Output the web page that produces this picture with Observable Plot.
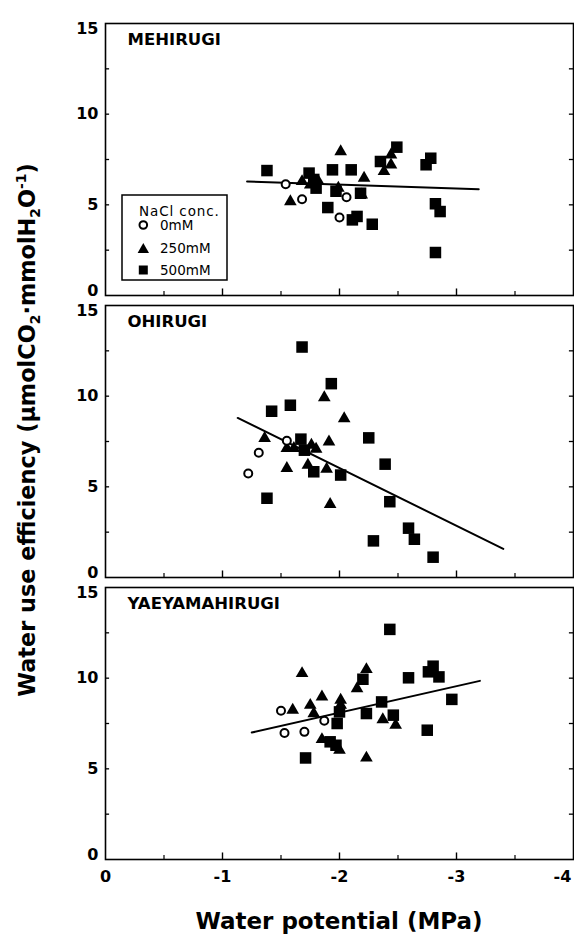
<!DOCTYPE html>
<html>
<head>
<meta charset="utf-8">
<script src="https://cdn.jsdelivr.net/npm/d3@7"></script>
<script src="https://cdn.jsdelivr.net/npm/@observablehq/plot@0.6"></script>
<style>
  body { margin: 0; background: #fff; }
  #wrap { position: relative; width: 574px; height: 938px; overflow: hidden; font-family: "DejaVu Sans", sans-serif; color: #000; }
  #ylabel { position: absolute; left: 27px; top: 430px; transform: translate(-50%, -50%) rotate(-90deg); white-space: nowrap; font-weight: bold; font-size: 22.4px; line-height: 1; }
  #ylabel sub, #ylabel sup { font-size: 0.62em; line-height: 0; }
  #xlabel { position: absolute; left: 105px; width: 468px; text-align: center; top: 910px; font-weight: bold; font-size: 23px; line-height: 1; white-space: nowrap; }
  #legend { position: absolute; left: 121px; top: 194px; }
  #legend text { font-family: "DejaVu Sans", sans-serif; font-size: 13.5px; }
</style>
</head>
<body>
<div id="wrap">
  <div id="chart"></div>
  <div id="ylabel">Water use efficiency (μmolCO<sub>2</sub>·mmolH<sub>2</sub>O<sup>-1</sup>)</div>
  <div id="xlabel">Water potential (MPa)</div>
  <svg id="legend" width="108" height="88">
    <rect x="1" y="1" width="105" height="85" fill="#fff" stroke="#000" stroke-width="1.5"></rect>
    <text x="18" y="21.7" style="letter-spacing:0.9px">NaCl conc.</text>
    <circle cx="22.3" cy="31" r="3.8" fill="none" stroke="#000" stroke-width="2"></circle>
    <text x="39" y="36">0mM</text>
    <path d="M22.3,49 L28,59 L16.6,59 Z" fill="#000"></path>
    <text x="39" y="59.3">250mM</text>
    <rect x="17.8" y="71.5" width="9" height="9" fill="#000"></rect>
    <text x="39" y="81">500mM</text>
  </svg>
</div>
<script>
// ---- categories & ticks ----
const species = ["MEHIRUGI", "OHIRUGI", "YAEYAMAHIRUGI"];
const treatments = ["0mM", "250mM", "500mM"];
const xTicks = [0, -1, -2, -3];
const xLastTick = [-4];
const xMajorInner = [-1, -2, -3];
const xMinorTicks = [-0.5, -1.5, -2.5, -3.5];
const yTicksMid = [5, 10];
const yTickTop = [15];
const yTickBottom = [0];
const yInnerTicks = [2.5, 5, 7.5, 10, 12.5];

// ---- data: [water potential (MPa), WUE] ----
const mehirugi_0mM = [[-1.54, 6.14], [-1.68, 5.31], [-2.06, 5.42], [-2.00, 4.30]];
const mehirugi_250mM = [[-1.58, 5.18], [-2.01, 7.94], [-1.68, 6.29], [-1.82, 6.29], [-1.99, 5.92],
  [-2.21, 6.47], [-2.19, 5.55], [-2.38, 6.84], [-2.44, 7.21], [-2.44, 7.76], [-1.75, 6.1]];
const mehirugi_500mM = [[-1.38, 6.89], [-1.74, 6.75], [-1.80, 5.92], [-1.94, 6.93], [-1.90, 4.85],
  [-2.10, 6.93], [-2.11, 4.17], [-2.15, 4.36], [-2.18, 5.64], [-2.28, 3.93], [-2.35, 7.39],
  [-2.49, 8.18], [-2.74, 7.21], [-2.78, 7.57], [-2.82, 5.06], [-2.86, 4.63], [-2.82, 2.37],
  [-1.78, 6.4], [-1.97, 5.75]];
const mehirugi_fit = [[-1.21, 6.29], [-3.19, 5.86]];

const ohirugi_0mM = [[-1.22, 5.74], [-1.31, 6.88], [-1.55, 7.54]];
const ohirugi_250mM = [[-1.36, 7.67], [-1.55, 7.12], [-1.61, 7.12], [-1.76, 7.30], [-1.80, 7.08],
  [-1.55, 6.02], [-1.73, 6.20], [-1.89, 5.98], [-1.91, 7.48], [-1.87, 9.92], [-2.04, 8.77], [-1.92, 4.04]];
const ohirugi_500mM = [[-1.68, 12.71], [-1.93, 10.69], [-1.42, 9.17], [-1.58, 9.50], [-1.67, 7.63],
  [-1.70, 7.02], [-1.78, 5.83], [-2.01, 5.65], [-2.25, 7.70], [-2.39, 6.25], [-2.43, 4.18],
  [-2.59, 2.72], [-2.64, 2.11], [-2.29, 2.02], [-2.80, 1.12], [-1.38, 4.37]];
const ohirugi_fit = [[-1.13, 8.80], [-3.40, 1.58]];

const yaeyamahirugi_0mM = [[-1.50, 8.20], [-1.53, 6.98], [-1.70, 7.04], [-1.87, 7.65]];
const yaeyamahirugi_250mM = [[-1.68, 10.26], [-2.23, 10.48], [-2.15, 9.43], [-1.85, 8.97], [-2.01, 8.79],
  [-2.01, 8.51], [-1.60, 8.24], [-1.75, 8.51], [-1.78, 8.05], [-2.37, 7.72], [-2.48, 7.41],
  [-1.85, 6.62], [-2.00, 6.03], [-2.23, 5.60]];
const yaeyamahirugi_500mM = [[-2.43, 12.69], [-2.80, 10.66], [-2.76, 10.35], [-2.85, 10.07], [-2.59, 10.02],
  [-2.20, 9.94], [-2.36, 8.69], [-2.96, 8.83], [-2.23, 8.05], [-2.46, 7.96], [-1.98, 7.50],
  [-2.75, 7.13], [-1.92, 6.49], [-1.97, 6.30], [-1.71, 5.60], [-2.00, 8.14]];
const yaeyamahirugi_fit = [[-1.25, 7.00], [-3.20, 9.85]];

// ---- build tables for the library ----
const groups = [
  [species[0], treatments[0], mehirugi_0mM], [species[0], treatments[1], mehirugi_250mM], [species[0], treatments[2], mehirugi_500mM],
  [species[1], treatments[0], ohirugi_0mM], [species[1], treatments[1], ohirugi_250mM], [species[1], treatments[2], ohirugi_500mM],
  [species[2], treatments[0], yaeyamahirugi_0mM], [species[2], treatments[1], yaeyamahirugi_250mM], [species[2], treatments[2], yaeyamahirugi_500mM]
];
const points = groups.flatMap(([sp, t, arr]) => arr.map(([x, y]) => ({species: sp, nacl: t, x, y})));
const fits = [[species[0], mehirugi_fit], [species[1], ohirugi_fit], [species[2], yaeyamahirugi_fit]]
  .flatMap(([sp, arr]) => arr.map(([x, y]) => ({species: sp, x, y})));

const tickText = {fontSize: 16, fontWeight: "bold", label: null, tickSize: 0};

const chart = Plot.plot({
  width: 574,
  height: 938,
  marginLeft: 105,
  marginRight: 1,
  marginTop: 22,
  marginBottom: 79,
  style: {fontFamily: "DejaVu Sans", background: "#fff", color: "#000"},
  x: {domain: [0, -4]},
  y: {domain: [0, 15]},
  fy: {domain: species, axis: null, paddingInner: 0.037, paddingOuter: 0},
  marks: [
    Plot.frame({stroke: "#000", strokeWidth: 1.6}),
    Plot.ruleX(xMajorInner, {x: d => d, y1: 0, y2: 0.36, stroke: "#000", strokeWidth: 1.4}),
    Plot.ruleX(xMinorTicks, {x: d => d, y1: 0, y2: 0.22, stroke: "#000", strokeWidth: 1.2}),
    Plot.ruleY(yInnerTicks, {y: d => d, x1: 0, x2: -0.035, stroke: "#000", strokeWidth: 1.3}),
    Plot.ruleY(yInnerTicks, {y: d => d, x1: -4, x2: -3.965, stroke: "#000", strokeWidth: 1.3}),
    Plot.axisX(xTicks, {...tickText, tickPadding: 11, tickFormat: d => String(d)}),
    Plot.axisX(xLastTick, {...tickText, tickPadding: 11, tickFormat: d => String(d), dx: -11}),
    Plot.axisY(yTicksMid, {...tickText, tickPadding: 7}),
    Plot.axisY(yTickTop, {...tickText, tickPadding: 7, dy: 5.5}),
    Plot.axisY(yTickBottom, {...tickText, tickPadding: 7, dy: -4.5}),
    Plot.line(fits, {x: "x", y: "y", fy: "species", z: "species", stroke: "#000", strokeWidth: 2}),
    Plot.dot(points.filter(d => d.nacl === "500mM"), {x: "x", y: "y", fy: "species", symbol: "square", r: 6.5, fill: "#000"}),
    Plot.dot(points.filter(d => d.nacl === "250mM"), {x: "x", y: "y", fy: "species", symbol: "triangle", r: 4.7, fill: "#000"}),
    Plot.dot(points.filter(d => d.nacl === "0mM"), {x: "x", y: "y", fy: "species", symbol: "circle", r: 4, stroke: "#000", strokeWidth: 2, fill: "#fff"}),
    Plot.text(species, {fy: d => d, text: d => d, frameAnchor: "top-left", dx: 22, dy: 10, fontSize: 16.5, fontWeight: "bold"})
  ]
});
document.getElementById("chart").appendChild(chart);
</script>
</body>
</html>
